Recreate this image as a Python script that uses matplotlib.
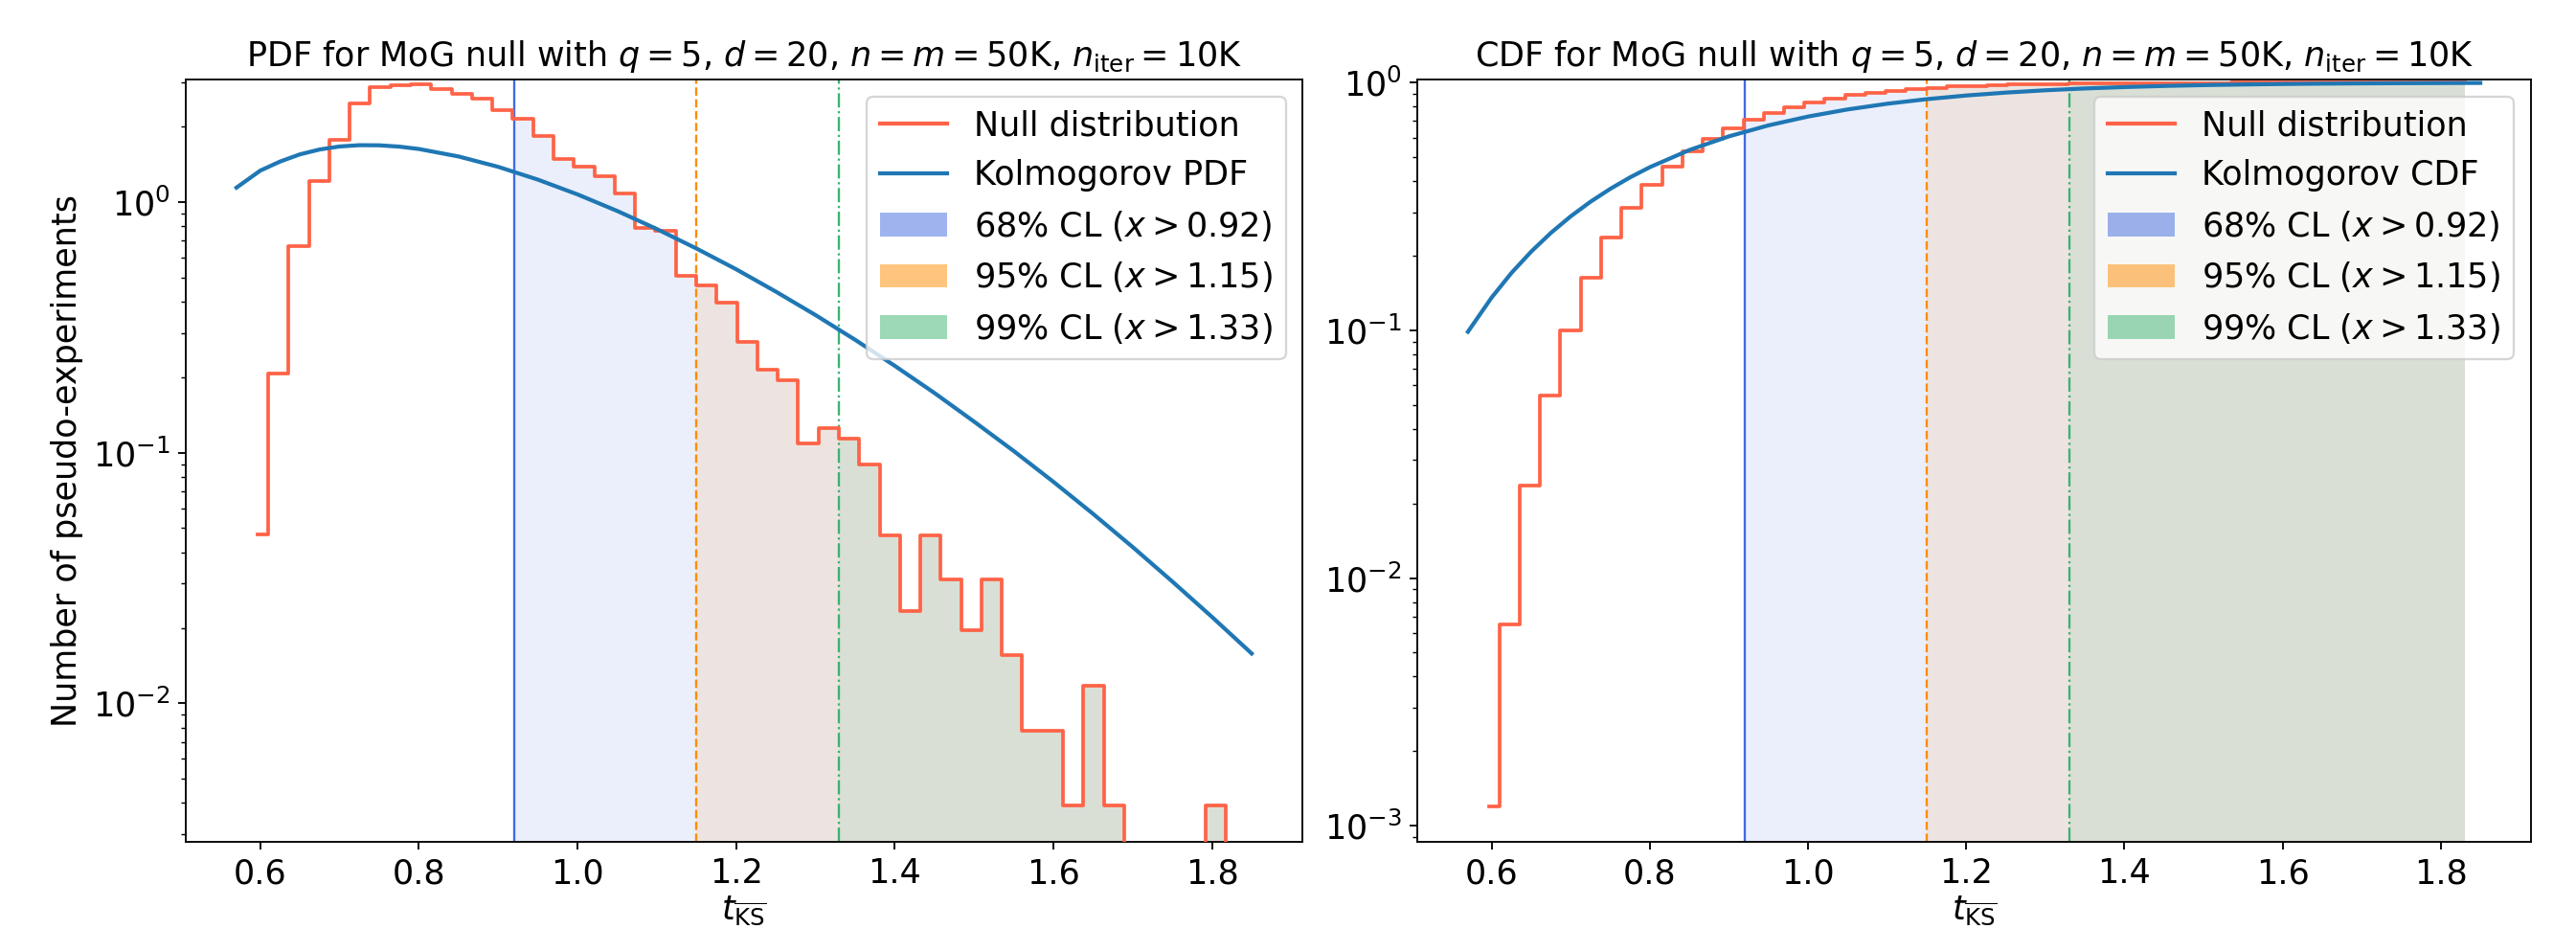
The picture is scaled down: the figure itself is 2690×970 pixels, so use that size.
import numpy as np
import matplotlib
matplotlib.use("Agg")
import matplotlib.pyplot as plt
from matplotlib.patches import Patch
from matplotlib.lines import Line2D

# ---------------- data ----------------
bin_centers = [0.5970, 0.6227, 0.6484, 0.6741, 0.6998, 0.7255, 0.7512, 0.7769,
               0.8026, 0.8283, 0.8540, 0.8797, 0.9054, 0.9311, 0.9568, 0.9825,
               1.0082, 1.0339, 1.0596, 1.0853, 1.1110, 1.1367, 1.1624, 1.1881,
               1.2138, 1.2395, 1.2652, 1.2909, 1.3166, 1.3423, 1.3680, 1.3937,
               1.4194, 1.4451, 1.4708, 1.4965, 1.5222, 1.5479, 1.5736, 1.5993,
               1.6250, 1.6507, 1.6764, 1.7021, 1.7278, 1.7535, 1.7792, 1.8049,
               1.8306]

null_pdf = [0.047, 0.206, 0.669, 1.21, 1.77, 2.47, 2.87, 2.93, 2.96, 2.82,
            2.71, 2.59, 2.32, 2.15, 1.83, 1.48, 1.385, 1.27, 1.08, 0.791,
            0.764, 0.509, 0.464, 0.397, 0.277, 0.215, 0.195, 0.109, 0.125, 0.114,
            0.090, 0.0467, 0.0233, 0.0467, 0.0311, 0.0195, 0.0311, 0.0156, 0.0078, 0.0078,
            0.0039, 0.0117, 0.0039, 0.0, 0.0, 0.0, 0.0, 0.0039, 0.0]

null_cdf = [0.0012, 0.00648, 0.0236, 0.0546, 0.0999, 0.1631, 0.2365, 0.3115, 0.3873, 0.4595,
            0.5288, 0.5951, 0.6545, 0.7095, 0.7564, 0.7943, 0.8297, 0.8622, 0.8899, 0.9101,
            0.9297, 0.9427, 0.9546, 0.9647, 0.9718, 0.9773, 0.9823, 0.9851, 0.9883, 0.9912,
            0.9935, 0.9948, 0.9954, 0.9966, 0.9974, 0.9979, 0.99857, 0.99898, 0.99918, 0.99939,
            0.99949, 0.99980, 0.99990, 0.99990, 0.99990, 0.99990, 0.99990, 1.0, 1.0]

kolm_x = [0.57, 0.60, 0.625, 0.65, 0.675, 0.70, 0.725, 0.75, 0.775, 0.80, 0.85, 0.90,
          0.95, 1.00, 1.05, 1.10, 1.15, 1.20, 1.25, 1.30, 1.35, 1.40, 1.45, 1.50,
          1.55, 1.60, 1.65, 1.70, 1.75, 1.80, 1.85]
kolm_pdf = [1.141, 1.334, 1.450, 1.549, 1.620, 1.665, 1.685, 1.683, 1.663, 1.627, 1.519, 1.381,
            1.228, 1.072, 0.921, 0.780, 0.652, 0.539, 0.439, 0.354, 0.282, 0.222, 0.173, 0.133,
            0.1015, 0.0765, 0.0570, 0.0420, 0.0306, 0.0221, 0.0158]
kolm_cdf = [0.0987, 0.1357, 0.1705, 0.2080, 0.2477, 0.2888, 0.3307, 0.3728, 0.4147, 0.4559, 0.5347, 0.6073,
            0.6725, 0.7300, 0.7798, 0.8223, 0.8580, 0.8878, 0.9121, 0.9319, 0.9478, 0.9603, 0.9702, 0.9778,
            0.9836, 0.9881, 0.9914, 0.9938, 0.9956, 0.9969, 0.9979]

cl_levels = ["68%", "95%", "99%"]
cl_thresholds = [0.92, 1.15, 1.33]

title_tail = r"null with $q=5$, $d=20$, $n=m=50$K, $n_{\rm iter}=10$K"

# ---------------- style ----------------
plt.rcParams["font.size"] = 15
cl_colors = ["royalblue", "darkorange", "mediumseagreen"]
cl_styles = ["-", "--", "-."]
null_color = "tomato"
kolm_color = "#1f77b4"
FLOOR = 1e-6


def step_mid(c, v):
    c = np.asarray(c, float)
    v = np.asarray(v, float)
    mids = (c[:-1] + c[1:]) / 2
    xs = np.concatenate([[c[0]], np.repeat(mids, 2), [c[-1]]])
    ys = np.repeat(v, 2)
    return xs, ys


def step_value_at(c, v, x):
    c = np.asarray(c, float)
    mids = (c[:-1] + c[1:]) / 2
    idx = np.searchsorted(mids, x, side="right")
    return v[idx]


def draw_panel(ax, vals, kvals, kname, title, ylim):
    xs, ys = step_mid(bin_centers, vals)
    vals_arr = np.asarray(vals, float)
    for thr, col in zip(cl_thresholds, cl_colors):
        sel = xs > thr
        fx = np.concatenate([[thr], xs[sel]])
        fy = np.concatenate([[step_value_at(bin_centers, vals_arr, thr)], ys[sel]])
        fy = np.where(fy > 0, fy, FLOOR)
        ax.fill_between(fx, fy, FLOOR, color=col, alpha=0.1, linewidth=0, zorder=1)
    ax.plot(xs, ys, color=null_color, lw=1.6, zorder=3)
    ax.plot(kolm_x, kvals, color=kolm_color, lw=1.8, zorder=4)
    for thr, col, ls in zip(cl_thresholds, cl_colors, cl_styles):
        ax.axvline(thr, color=col, ls=ls, lw=1.0, zorder=2)
    ax.set_yscale("log")
    ax.set_ylim(*ylim)
    ax.set_xlabel(r"$t_{\overline{\rm KS}}$", labelpad=2)
    ax.set_title(title, fontsize=15)
    handles = [Line2D([], [], color=null_color, lw=1.8),
               Line2D([], [], color=kolm_color, lw=1.8)]
    labels = ["Null distribution", kname]
    for lev, thr, col in zip(cl_levels, cl_thresholds, cl_colors):
        handles.append(Patch(facecolor=col, alpha=0.5, edgecolor="none"))
        labels.append(f"{lev} CL ($x > {thr:.2f}$)")
    ax.legend(handles, labels, loc="upper right")


fig = plt.figure(figsize=(2690 / 168, 970 / 168), dpi=168)
ax1 = fig.add_axes([0.0721, 0.0938, 0.4335, 0.8206])
ax2 = fig.add_axes([0.5502, 0.0938, 0.4323, 0.8206])

draw_panel(ax1, null_pdf, kolm_pdf, "Kolmogorov PDF", "PDF for MoG " + title_tail, (0.0028, 3.08))
ax1.set_ylabel("Number of pseudo-experiments")
draw_panel(ax2, null_cdf, kolm_cdf, "Kolmogorov CDF", "CDF for MoG " + title_tail, (0.00086, 1.03))

fig.savefig("out.png", dpi=168)
